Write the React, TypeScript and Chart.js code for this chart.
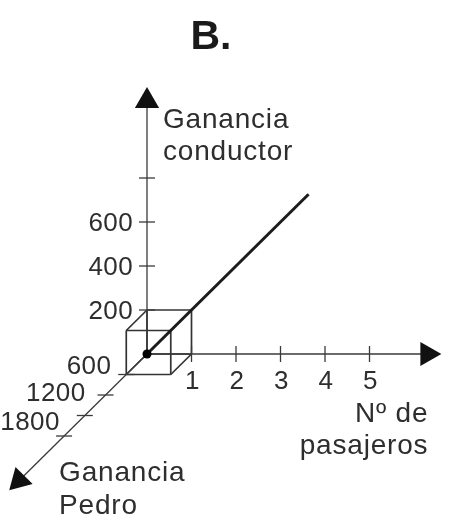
import React, { useEffect, useRef } from "react";
import { Chart, registerables } from "chart.js";

Chart.register(...registerables);

// ---- data ----
const title = "B.";
const passengerTicks = [1, 2, 3, 4, 5];
const passengerTickLabels = ["1", "2", "3", "4", "5"];
const conductorTicks = [200, 400, 600, 800];
const conductorTickLabels = ["200", "400", "600", ""];
const pedroTicks = [600, 1200, 1800, 2400];
const pedroTickLabels = ["600", "1200", "1800", ""];
const axisEndPassengers = 6.3;
const axisEndConductor = 1150;
const axisEndPedro = 3700;
const cubePassengers = [0, 1];
const cubeConductor = [0, 200];
const cubePedro = [0, 600];
const linePassengers = [0, 6.8];
const lineConductor = [0, 1360];
const linePedro = [0, 4080];
const xAxisTitle = ["Nº de", "pasajeros"];
const yAxisTitle = ["Ganancia", "conductor"];
const zAxisTitle = ["Ganancia", "Pedro"];

// oblique projection of (passengers, conductor, pedro) into plane units
const K = 0.466;
const proj = (n: number, g: number, p: number) => ({
  x: n - (p / 600) * K,
  y: g / 200 - (p / 600) * K,
});

const AXIS = "#3a3a3a";
const TEXT = "#2e2e2e";
const FONT = '"Liberation Sans", Arial, sans-serif';

export default function App() {
  const ref = useRef<HTMLCanvasElement>(null);
  useEffect(() => {
    if (!ref.current) return;

    const xEnd = proj(axisEndPassengers, 0, 0);
    const yEnd = proj(0, axisEndConductor, 0);
    const zEnd = proj(0, 0, axisEndPedro);

    // cube edges
    const verts: { n: number; g: number; p: number }[] = [];
    cubePassengers.forEach((n) =>
      cubeConductor.forEach((g) => cubePedro.forEach((p) => verts.push({ n, g, p })))
    );
    const edges: any[] = [];
    for (let i = 0; i < verts.length; i++)
      for (let j = i + 1; j < verts.length; j++) {
        const a = verts[i], b = verts[j];
        const diff = (a.n !== b.n ? 1 : 0) + (a.g !== b.g ? 1 : 0) + (a.p !== b.p ? 1 : 0);
        if (diff === 1) {
          edges.push({
            data: [proj(a.n, a.g, a.p), proj(b.n, b.g, b.p)],
            showLine: true,
            borderColor: "#333333",
            borderWidth: 1.7,
            pointRadius: 0,
            order: 5,
          });
        }
      }

    const textPlugin = {
      id: "texts",
      afterDatasetsDraw(chart: any) {
        const ctx = chart.ctx;
        const sx = chart.scales.x, sy = chart.scales.y;
        const px = (pt: { x: number; y: number }) => [sx.getPixelForValue(pt.x), sy.getPixelForValue(pt.y)];
        ctx.save();
        ctx.fillStyle = "#1a1a1a";
        ctx.font = `bold 41px ${FONT}`;
        ctx.textAlign = "center";
        ctx.textBaseline = "alphabetic";
        ctx.fillText(title, 211, 49);

        ctx.fillStyle = TEXT;
        ctx.font = `26px ${FONT}`;
        (ctx as any).letterSpacing = "0.4px";
        // passenger tick labels
        ctx.textAlign = "center";
        ctx.textBaseline = "middle";
        passengerTicks.forEach((t, i) => {
          const [x, y] = px(proj(t, 0, 0));
          ctx.fillText(passengerTickLabels[i], x + 1, y + 28);
        });
        // conductor tick labels
        ctx.textAlign = "right";
        conductorTicks.forEach((t, i) => {
          if (!conductorTickLabels[i]) return;
          const [x, y] = px(proj(0, t, 0));
          ctx.fillText(conductorTickLabels[i], x - 14, y + 2);
        });
        // pedro tick labels
        const nudges = [[-15, -8], [-20, -1], [-25, 7]];
        pedroTicks.forEach((t, i) => {
          if (!pedroTickLabels[i]) return;
          const [x, y] = px(proj(0, 0, t));
          const nd = nudges[i] || [-18, -3];
          ctx.fillText(pedroTickLabels[i], x + nd[0], y + nd[1]);
        });

        ctx.font = `28px ${FONT}`;
        (ctx as any).letterSpacing = "0.8px";
        ctx.textBaseline = "alphabetic";
        // y axis title
        {
          const [x, y] = px(yEnd);
          ctx.textAlign = "left";
          yAxisTitle.forEach((s, i) => ctx.fillText(s, x + 16, y + 27 + i * 32));
        }
        // x axis title
        {
          const [x, y] = px(xEnd);
          ctx.textAlign = "right";
          xAxisTitle.forEach((s, i) => ctx.fillText(s, x + 1, y + 68 + i * 32));
        }
        // z axis title
        {
          const [x, y] = px(zEnd);
          ctx.textAlign = "left";
          zAxisTitle.forEach((s, i) => ctx.fillText(s, x + 40, y + 1 + i * 33));
        }
        ctx.restore();
      },
    };

    const chart = new Chart(ref.current, {
      type: "scatter",
      data: {
        datasets: [
          // origin dot
          {
            data: [proj(0, 0, 0)],
            pointRadius: 4.5,
            pointBackgroundColor: "#000",
            pointBorderWidth: 0,
            order: 0,
          },
          // main line
          {
            data: [
              proj(linePassengers[0], lineConductor[0], linePedro[0]),
              proj(linePassengers[1], lineConductor[1], linePedro[1]),
            ],
            showLine: true,
            borderColor: "#1c1c1c",
            borderWidth: 3,
            pointRadius: 0,
            order: 1,
          },
          // arrowheads
          {
            data: [xEnd, yEnd, zEnd],
            pointStyle: "triangle",
            pointRadius: 14,
            pointRotation: [90, 0, 225],
            pointBackgroundColor: "#111",
            pointBorderColor: "#111",
            pointBorderWidth: 0,
            order: 2,
          },
          // axes
          { data: [proj(0, 0, 0), xEnd], showLine: true, borderColor: AXIS, borderWidth: 1.3, pointRadius: 0, order: 3 },
          { data: [proj(0, 0, 0), yEnd], showLine: true, borderColor: AXIS, borderWidth: 1.3, pointRadius: 0, order: 3 },
          { data: [proj(0, 0, 0), zEnd], showLine: true, borderColor: AXIS, borderWidth: 1.3, pointRadius: 0, order: 3 },
          // ticks
          {
            data: passengerTicks.map((t) => proj(t, 0, 0)),
            pointStyle: "line",
            pointRadius: 8,
            pointRotation: 90,
            pointBorderColor: AXIS,
            pointBorderWidth: 1.3,
            order: 4,
          },
          {
            data: conductorTicks.map((t) => proj(0, t, 0)),
            pointStyle: "line",
            pointRadius: 8,
            pointBorderColor: AXIS,
            pointBorderWidth: 1.3,
            order: 4,
          },
          {
            data: pedroTicks.map((t) => proj(0, 0, t)),
            pointStyle: "line",
            pointRadius: 8,
            pointBorderColor: AXIS,
            pointBorderWidth: 1.3,
            order: 4,
          },
          ...edges,
        ],
      },
      options: {
        animation: false,
        responsive: false,
        maintainAspectRatio: false,
        devicePixelRatio: 1,
        layout: { padding: 0, autoPadding: false },
        events: [],
        plugins: { legend: { display: false }, tooltip: { enabled: false }, title: { display: false } },
        scales: {
          x: { type: "linear", display: false, min: -147 / 44.5, max: (449 - 147) / 44.5 },
          y: { type: "linear", display: false, min: (354 - 524) / 44, max: 354 / 44 },
        },
      },
      plugins: [textPlugin],
    });
    return () => chart.destroy();
  }, []);

  return (
    <div style={{ position: "fixed", left: 0, top: 0, width: 449, height: 524, background: "#fff" }}>
      <canvas ref={ref} width={449} height={524} />
    </div>
  );
}
